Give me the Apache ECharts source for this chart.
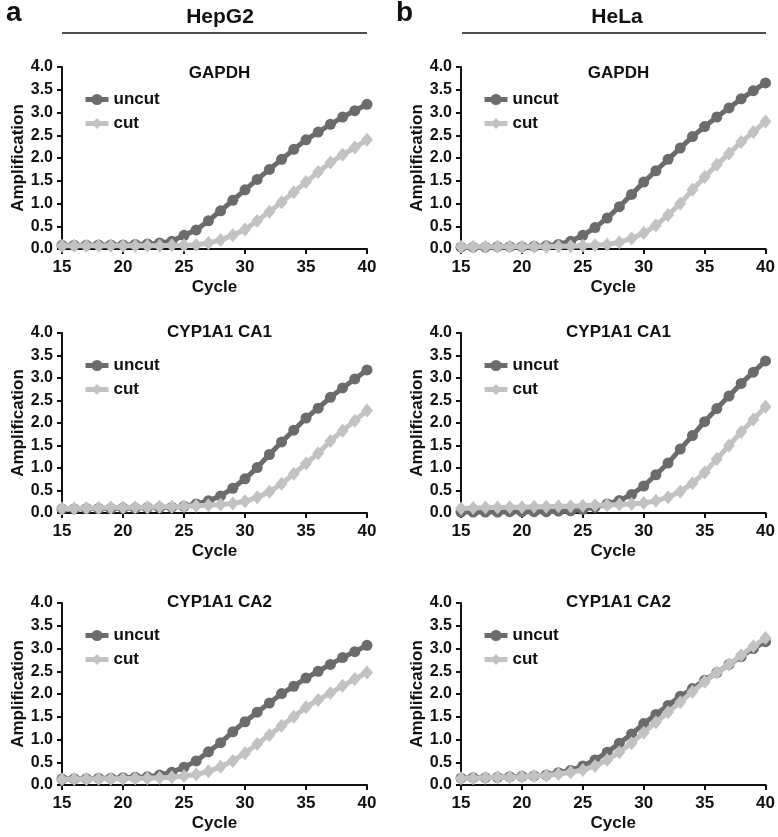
<!DOCTYPE html>
<html style="height: 100%">
<head>
  <meta charset="UTF-8" />
  <title>qPCR amplification</title>
  <script src="https://cdn.jsdelivr.net/npm/echarts@6/dist/echarts.min.js"></script>
</head>
<body style="height: 100%; margin: 0; background: #fff">
  <div id="container" style="width: 778px; height: 837px"></div>
  <script>
    const cycles = [15, 16, 17, 18, 19, 20, 21, 22, 23, 24, 25, 26, 27, 28, 29, 30, 31, 32, 33, 34, 35, 36, 37, 38, 39, 40];
    const panelTitles = ['GAPDH', 'GAPDH', 'CYP1A1 CA1', 'CYP1A1 CA1', 'CYP1A1 CA2', 'CYP1A1 CA2'];
    const yTicks = ['0.0', '0.5', '1.0', '1.5', '2.0', '2.5', '3.0', '3.5', '4.0'];

    // HepG2 GAPDH
    const hepGapdhUncut = [0.08, 0.08, 0.08, 0.09, 0.09, 0.09, 0.10, 0.11, 0.13, 0.17, 0.30, 0.42, 0.62, 0.84, 1.07, 1.30, 1.53, 1.75, 1.97, 2.19, 2.40, 2.57, 2.74, 2.90, 3.04, 3.18];
    const hepGapdhCut = [0.07, 0.07, 0.07, 0.07, 0.07, 0.07, 0.07, 0.07, 0.07, 0.08, 0.08, 0.09, 0.13, 0.20, 0.30, 0.43, 0.62, 0.82, 1.03, 1.25, 1.47, 1.69, 1.90, 2.07, 2.23, 2.40];
    // HeLa GAPDH
    const helaGapdhUncut = [0.04, 0.04, 0.04, 0.05, 0.05, 0.05, 0.06, 0.07, 0.10, 0.17, 0.30, 0.47, 0.68, 0.93, 1.20, 1.47, 1.72, 1.97, 2.22, 2.47, 2.69, 2.90, 3.10, 3.30, 3.48, 3.65];
    const helaGapdhCut = [0.05, 0.05, 0.05, 0.05, 0.05, 0.05, 0.05, 0.05, 0.06, 0.06, 0.07, 0.08, 0.10, 0.15, 0.23, 0.35, 0.52, 0.75, 1.00, 1.30, 1.58, 1.85, 2.10, 2.35, 2.57, 2.80];
    // HepG2 CYP1A1 CA1
    const hepCa1Uncut = [0.09, 0.09, 0.10, 0.10, 0.10, 0.11, 0.11, 0.12, 0.12, 0.13, 0.15, 0.20, 0.27, 0.38, 0.55, 0.76, 1.01, 1.30, 1.58, 1.84, 2.11, 2.33, 2.57, 2.78, 2.98, 3.18];
    const hepCa1Cut = [0.10, 0.10, 0.11, 0.11, 0.12, 0.12, 0.13, 0.13, 0.14, 0.14, 0.15, 0.16, 0.17, 0.19, 0.21, 0.26, 0.35, 0.47, 0.65, 0.87, 1.10, 1.33, 1.60, 1.83, 2.05, 2.28];
    // HeLa CYP1A1 CA1
    const helaCa1Uncut = [0.02, 0.02, 0.02, 0.02, 0.03, 0.03, 0.03, 0.03, 0.04, 0.05, 0.08, 0.13, 0.20, 0.28, 0.41, 0.60, 0.85, 1.11, 1.42, 1.72, 2.03, 2.32, 2.60, 2.88, 3.13, 3.38];
    const helaCa1Cut = [0.10, 0.11, 0.12, 0.12, 0.13, 0.13, 0.14, 0.14, 0.15, 0.15, 0.16, 0.17, 0.18, 0.19, 0.20, 0.22, 0.27, 0.35, 0.48, 0.66, 0.90, 1.20, 1.50, 1.80, 2.08, 2.36];
    // HepG2 CYP1A1 CA2
    const hepCa2Uncut = [0.13, 0.14, 0.14, 0.15, 0.15, 0.16, 0.17, 0.18, 0.22, 0.28, 0.39, 0.53, 0.73, 0.93, 1.17, 1.39, 1.60, 1.80, 2.01, 2.17, 2.35, 2.50, 2.65, 2.80, 2.93, 3.07];
    const hepCa2Cut = [0.12, 0.13, 0.13, 0.14, 0.14, 0.14, 0.15, 0.15, 0.16, 0.17, 0.20, 0.23, 0.30, 0.40, 0.53, 0.70, 0.90, 1.10, 1.30, 1.50, 1.71, 1.87, 2.02, 2.18, 2.33, 2.47];
    // HeLa CYP1A1 CA2
    const helaCa2Uncut = [0.15, 0.16, 0.16, 0.17, 0.18, 0.19, 0.20, 0.22, 0.27, 0.32, 0.42, 0.55, 0.72, 0.92, 1.12, 1.35, 1.55, 1.75, 1.95, 2.12, 2.30, 2.47, 2.65, 2.82, 3.00, 3.15];
    const helaCa2Cut = [0.15, 0.15, 0.16, 0.17, 0.17, 0.18, 0.20, 0.21, 0.24, 0.28, 0.33, 0.42, 0.55, 0.72, 0.92, 1.15, 1.38, 1.60, 1.82, 2.05, 2.27, 2.47, 2.65, 2.85, 3.05, 3.23];

    const uncutSets = [hepGapdhUncut, helaGapdhUncut, hepCa1Uncut, helaCa1Uncut, hepCa2Uncut, helaCa2Uncut];
    const cutSets = [hepGapdhCut, helaGapdhCut, hepCa1Cut, helaCa1Cut, hepCa2Cut, helaCa2Cut];

    const font = 'Liberation Sans, Arial, sans-serif';
    const colLeft = [62, 461];
    const rowTop = [67, 333, 603];
    const rowHeight = [182, 180, 182];
    const titleTop = [60, 319, 589];
    const plotW = 305;

    const grids = [], xAxes = [], yAxes = [], titles = [], legends = [], series = [];

    for (let i = 0; i < 6; i++) {
      const c = i % 2, r = Math.floor(i / 2);
      grids.push({ left: colLeft[c], top: rowTop[r], width: plotW, height: rowHeight[r] });
      xAxes.push({
        type: 'value', gridIndex: i, min: 15, max: 40, interval: 5,
        name: 'Cycle', nameLocation: 'middle', nameGap: 30,
        nameTextStyle: { fontFamily: font, fontWeight: 'bold', fontSize: 17, color: '#111' },
        axisLine: { lineStyle: { color: '#111', width: 2 } },
        axisTick: { length: 5, lineStyle: { color: '#111', width: 2 } },
        axisLabel: { margin: 10, fontFamily: font, fontWeight: 'bold', fontSize: 17, color: '#111' },
        splitLine: { show: false }
      });
      yAxes.push({
        type: 'value', gridIndex: i, min: 0, max: 4, interval: 0.5,
        name: 'Amplification', nameLocation: 'middle', nameGap: 35,
        nameTextStyle: { fontFamily: font, fontWeight: 'bold', fontSize: 17, color: '#111' },
        axisLine: { show: true, lineStyle: { color: '#111', width: 2 } },
        axisTick: { show: true, length: 5, lineStyle: { color: '#111', width: 2 } },
        axisLabel: {
          margin: 9, fontFamily: font, fontWeight: 'bold', fontSize: 16, color: '#111',
          formatter: v => yTicks[Math.round(v * 2)]
        },
        splitLine: { show: false }
      });
      titles.push({
        text: panelTitles[i], left: colLeft[c] + plotW / 2, top: titleTop[r], textAlign: 'center',
        textStyle: { fontFamily: font, fontWeight: 'bold', fontSize: 17, color: '#111' }
      });
      legends.push({
        data: ['uncut', 'cut'], orient: 'vertical',
        left: colLeft[c] + 16, top: rowTop[r] + 19,
        itemWidth: 23, itemHeight: 14, itemGap: 7,
        lineStyle: { width: 5 },
        textStyle: { fontFamily: font, fontWeight: 'bold', fontSize: 17, color: '#111' }
      });
      series.push({
        name: 'uncut', type: 'line', xAxisIndex: i, yAxisIndex: i,
        data: cycles.map((x, k) => [x, uncutSets[i][k]]),
        symbol: 'circle', symbolSize: 11,
        itemStyle: { color: '#6b6b6b' }, lineStyle: { color: '#6b6b6b', width: 5 },
        z: 3
      });
      series.push({
        name: 'cut', type: 'line', xAxisIndex: i, yAxisIndex: i,
        data: cycles.map((x, k) => [x, cutSets[i][k]]),
        symbol: 'diamond', symbolSize: [12, 14],
        itemStyle: { color: '#c2c2c2' }, lineStyle: { color: '#c2c2c2', width: 5 },
        z: 4
      });
    }

    // column headers
    titles.push({ text: 'a', left: 1, top: -6, textStyle: { fontFamily: font, fontWeight: 'bold', fontSize: 28, color: '#111' } });
    titles.push({ text: 'b', left: 391, top: -6, textStyle: { fontFamily: font, fontWeight: 'bold', fontSize: 28, color: '#111' } });
    titles.push({ text: 'HepG2', left: 215, top: 2, textAlign: 'center', textStyle: { fontFamily: font, fontWeight: 'bold', fontSize: 21, color: '#111' } });
    titles.push({ text: 'HeLa', left: 612, top: 2, textAlign: 'center', textStyle: { fontFamily: font, fontWeight: 'bold', fontSize: 21, color: '#111' } });

    const chart = echarts.init(document.getElementById('container'), null, { renderer: 'canvas' });
    chart.setOption({
      backgroundColor: '#fff',
      animation: false,
      title: titles,
      legend: legends,
      grid: grids,
      xAxis: xAxes,
      yAxis: yAxes,
      series: series,
      graphic: [
        { type: 'line', shape: { x1: 62, y1: 33, x2: 367, y2: 33 }, style: { stroke: '#111', lineWidth: 1.5 } },
        { type: 'line', shape: { x1: 462, y1: 33, x2: 766, y2: 33 }, style: { stroke: '#111', lineWidth: 1.5 } }
      ]
    });
  </script>
</body>
</html>
